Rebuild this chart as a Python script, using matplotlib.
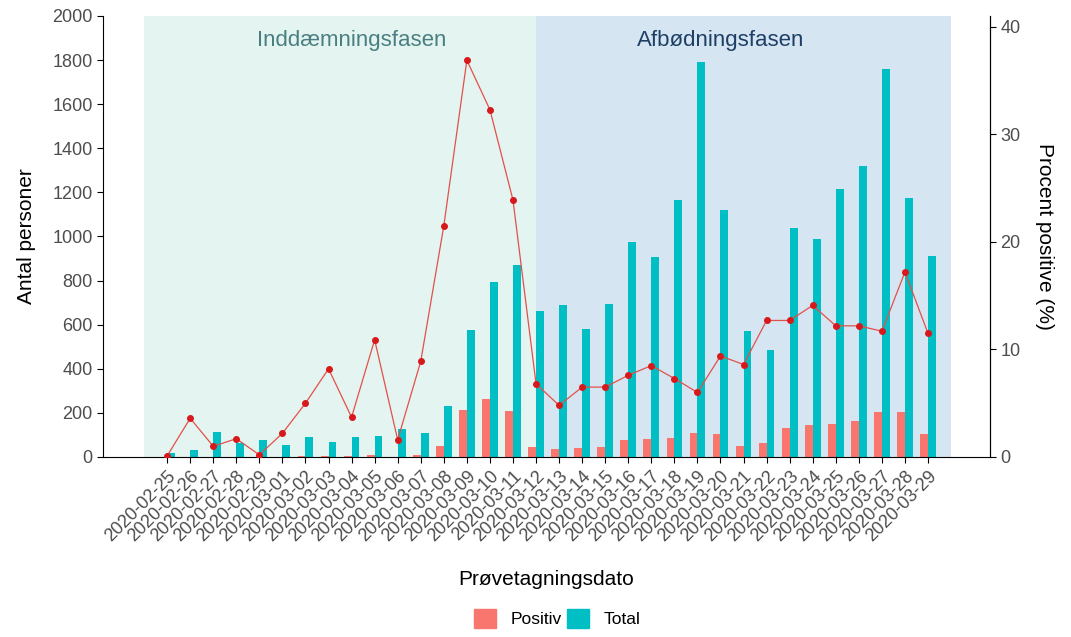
import numpy as np
import matplotlib
matplotlib.use("Agg")
import matplotlib.pyplot as plt
from matplotlib.patches import Patch

plt.rcParams["font.family"] = ["Liberation Sans", "DejaVu Sans"]

# Data
dates = [
    "2020-02-25", "2020-02-26", "2020-02-27", "2020-02-28", "2020-02-29",
    "2020-03-01", "2020-03-02", "2020-03-03", "2020-03-04", "2020-03-05",
    "2020-03-06", "2020-03-07", "2020-03-08", "2020-03-09", "2020-03-10",
    "2020-03-11", "2020-03-12", "2020-03-13", "2020-03-14", "2020-03-15",
    "2020-03-16", "2020-03-17", "2020-03-18", "2020-03-19", "2020-03-20",
    "2020-03-21", "2020-03-22", "2020-03-23", "2020-03-24", "2020-03-25",
    "2020-03-26", "2020-03-27", "2020-03-28", "2020-03-29",
]

total = [17, 32, 112, 62, 77, 54, 91, 66, 91, 95, 128, 107, 231, 576, 795,
         869, 662, 688, 582, 695, 977, 906, 1164, 1793, 1120, 571, 485, 1040,
         990, 1215, 1318, 1760, 1176, 912]

positiv = [0, 1, 1, 1, 0, 1, 5, 5, 3, 10, 2, 10, 50, 213, 262, 210, 46, 35,
           40, 47, 75, 80, 88, 110, 105, 50, 63, 133, 143, 150, 163, 206, 202, 105]

procent = [0.1, 3.6, 1.0, 1.7, 0.2, 2.2, 5.0, 8.2, 3.7, 10.9, 1.6, 8.9, 21.5,
           36.9, 32.3, 23.9, 6.8, 4.8, 6.5, 6.5, 7.6, 8.5, 7.3, 6.0, 9.4, 8.6,
           12.7, 12.7, 14.1, 12.2, 12.2, 11.7, 17.2, 11.5]

x = np.arange(len(dates))

fig = plt.figure(figsize=(10.71, 6.37), dpi=100)
ax = fig.add_axes([0.0962, 0.2826, 0.9244 - 0.0962, 0.9749 - 0.2826])

# phase shading
ax.axvspan(-1, 16, color="#E4F4F0", zorder=0, lw=0)
ax.axvspan(16, 34, color="#D5E5F1", zorder=0, lw=0)

w = 0.34
ax.bar(x - w / 2, positiv, width=w, color="#F8766D", zorder=2)
ax.bar(x + w / 2, total, width=w, color="#00BFC4", zorder=2)

ax.set_xlim(-2.78, 35.69)
ax.set_ylim(0, 2000)
ax.set_yticks(range(0, 2001, 200))
ax.set_xticks(x)
ax.set_xticklabels(dates, rotation=45, ha="right", rotation_mode="anchor")

ax.text(8, 1890, "Inddæmningsfasen", ha="center", va="center",
        fontsize=16, color="#4A7F82")
ax.text(24, 1890, "Afbødningsfasen", ha="center", va="center",
        fontsize=16, color="#1F3F66")

ax2 = ax.twinx()
ax2.plot(x, procent, color="#E3504A", lw=0.9, marker="o", markersize=4,
         markerfacecolor="#D7191C", markeredgecolor="#D7191C")
ax2.set_ylim(0, 41.02)
ax2.set_yticks([0, 10, 20, 30, 40])

for a in (ax, ax2):
    a.spines["top"].set_visible(False)
    a.tick_params(labelsize=13, labelcolor="#4D4D4D", length=4, width=0.8)
ax2.spines["left"].set_visible(False)
ax2.spines["bottom"].set_visible(False)

ax.set_ylabel("Antal personer", fontsize=15, labelpad=12)
ax2.set_ylabel("Procent positive (%)", fontsize=15, rotation=-90, labelpad=24)
ax.set_xlabel("Prøvetagningsdato", fontsize=15, labelpad=18)

handles = [Patch(color="#F8766D", label="Positiv"),
           Patch(color="#00BFC4", label="Total")]
fig.legend(handles=handles, loc="lower center", bbox_to_anchor=(0.52, -0.01),
           ncol=2, frameon=False, fontsize=12.5, handlelength=1.3,
           handleheight=1.3, columnspacing=0.3, handletextpad=0.8)

fig.savefig("out.png", dpi=100)
